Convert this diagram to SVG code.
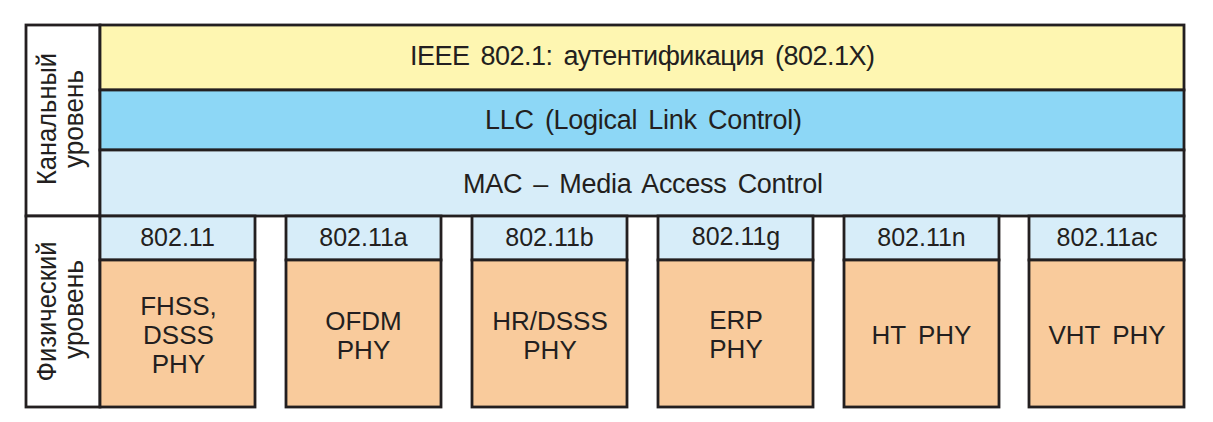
<svg xmlns="http://www.w3.org/2000/svg" width="1213" height="422" viewBox="0 0 1213 422">
  <style>
    rect { stroke: #231f20; stroke-width: 2.8; }
    .side { fill: #ffffff; }
    .auth { fill: #fef6b1; }
    .llc { fill: #8dd7f6; }
    .mac { fill: #d7edf9; }
    .std { fill: #d7edf9; }
    .phy { fill: #f9cb9c; }
    text { font-family: "Liberation Sans", Arial, sans-serif; fill: #231f20; text-anchor: middle; }
    .band { font-size: 27px; word-spacing: 4px; }
    .lvl { font-size: 27px; }
    .hdr { font-size: 25px; }
    .body { font-size: 26px; word-spacing: 5px; }
  </style>

  <!-- Left column: layer names, rotated -->
  <g id="data-link-level">
    <rect class="side" x="26" y="25" width="74" height="191"/>
    <text class="lvl" transform="translate(55.5,119) rotate(-90)" textLength="132" lengthAdjust="spacingAndGlyphs">Канальный</text>
    <text class="lvl" transform="translate(82.5,119) rotate(-90)" textLength="98" lengthAdjust="spacingAndGlyphs">уровень</text>
  </g>
  <g id="physical-level">
    <rect class="side" x="26" y="216" width="74" height="191"/>
    <text class="lvl" transform="translate(55.5,311.5) rotate(-90)" textLength="140" lengthAdjust="spacingAndGlyphs">Физический</text>
    <text class="lvl" transform="translate(82.5,309.5) rotate(-90)" textLength="99" lengthAdjust="spacingAndGlyphs">уровень</text>
  </g>

  <!-- Upper sublayers spanning all columns -->
  <g id="ieee-8021">
    <rect class="auth" x="100" y="25" width="1084" height="65"/>
    <text class="band" x="642.5" y="65" textLength="465" lengthAdjust="spacing">IEEE 802.1: аутентификация (802.1X)</text>
  </g>
  <g id="llc">
    <rect class="llc" x="100" y="90" width="1084" height="60"/>
    <text class="band" x="643.5" y="128.5" textLength="317" lengthAdjust="spacing">LLC (Logical Link Control)</text>
  </g>
  <g id="mac">
    <rect class="mac" x="100" y="150" width="1084" height="66"/>
    <text class="band" x="643" y="193" textLength="360" lengthAdjust="spacing">MAC – Media Access Control</text>
  </g>

  <!-- Physical layer variants -->
  <g id="std-80211">
    <rect class="std" x="100" y="216" width="155" height="44"/>
    <rect class="phy" x="100" y="260" width="155" height="147"/>
    <text class="hdr" x="177.5" y="246">802.11</text>
    <text class="body" x="178.5" y="315">FHSS,</text>
    <text class="body" x="178.5" y="344">DSSS</text>
    <text class="body" x="178.5" y="373">PHY</text>
  </g>
  <g id="std-80211a">
    <rect class="std" x="286" y="216" width="155" height="44"/>
    <rect class="phy" x="286" y="260" width="155" height="147"/>
    <text class="hdr" x="363.5" y="246">802.11a</text>
    <text class="body" x="363.5" y="330">OFDM</text>
    <text class="body" x="363.5" y="358.5">PHY</text>
  </g>
  <g id="std-80211b">
    <rect class="std" x="472" y="216" width="155" height="44"/>
    <rect class="phy" x="472" y="260" width="155" height="147"/>
    <text class="hdr" x="549.5" y="246">802.11b</text>
    <text class="body" x="550" y="330">HR/DSSS</text>
    <text class="body" x="550" y="358.5">PHY</text>
  </g>
  <g id="std-80211g">
    <rect class="std" x="658" y="216" width="155" height="44"/>
    <rect class="phy" x="658" y="260" width="155" height="147"/>
    <text class="hdr" x="736" y="245">802.11g</text>
    <text class="body" x="736" y="329">ERP</text>
    <text class="body" x="736" y="358">PHY</text>
  </g>
  <g id="std-80211n">
    <rect class="std" x="844" y="216" width="155" height="44"/>
    <rect class="phy" x="844" y="260" width="155" height="147"/>
    <text class="hdr" x="921.5" y="246">802.11n</text>
    <text class="body" x="921.5" y="343.5">HT PHY</text>
  </g>
  <g id="std-80211ac">
    <rect class="std" x="1029" y="216" width="155" height="44"/>
    <rect class="phy" x="1029" y="260" width="155" height="147"/>
    <text class="hdr" x="1107" y="246">802.11ac</text>
    <text class="body" x="1107" y="344">VHT PHY</text>
  </g>

  <!-- No connectors in this layer diagram -->
  <g id="connectors"/>
</svg>
